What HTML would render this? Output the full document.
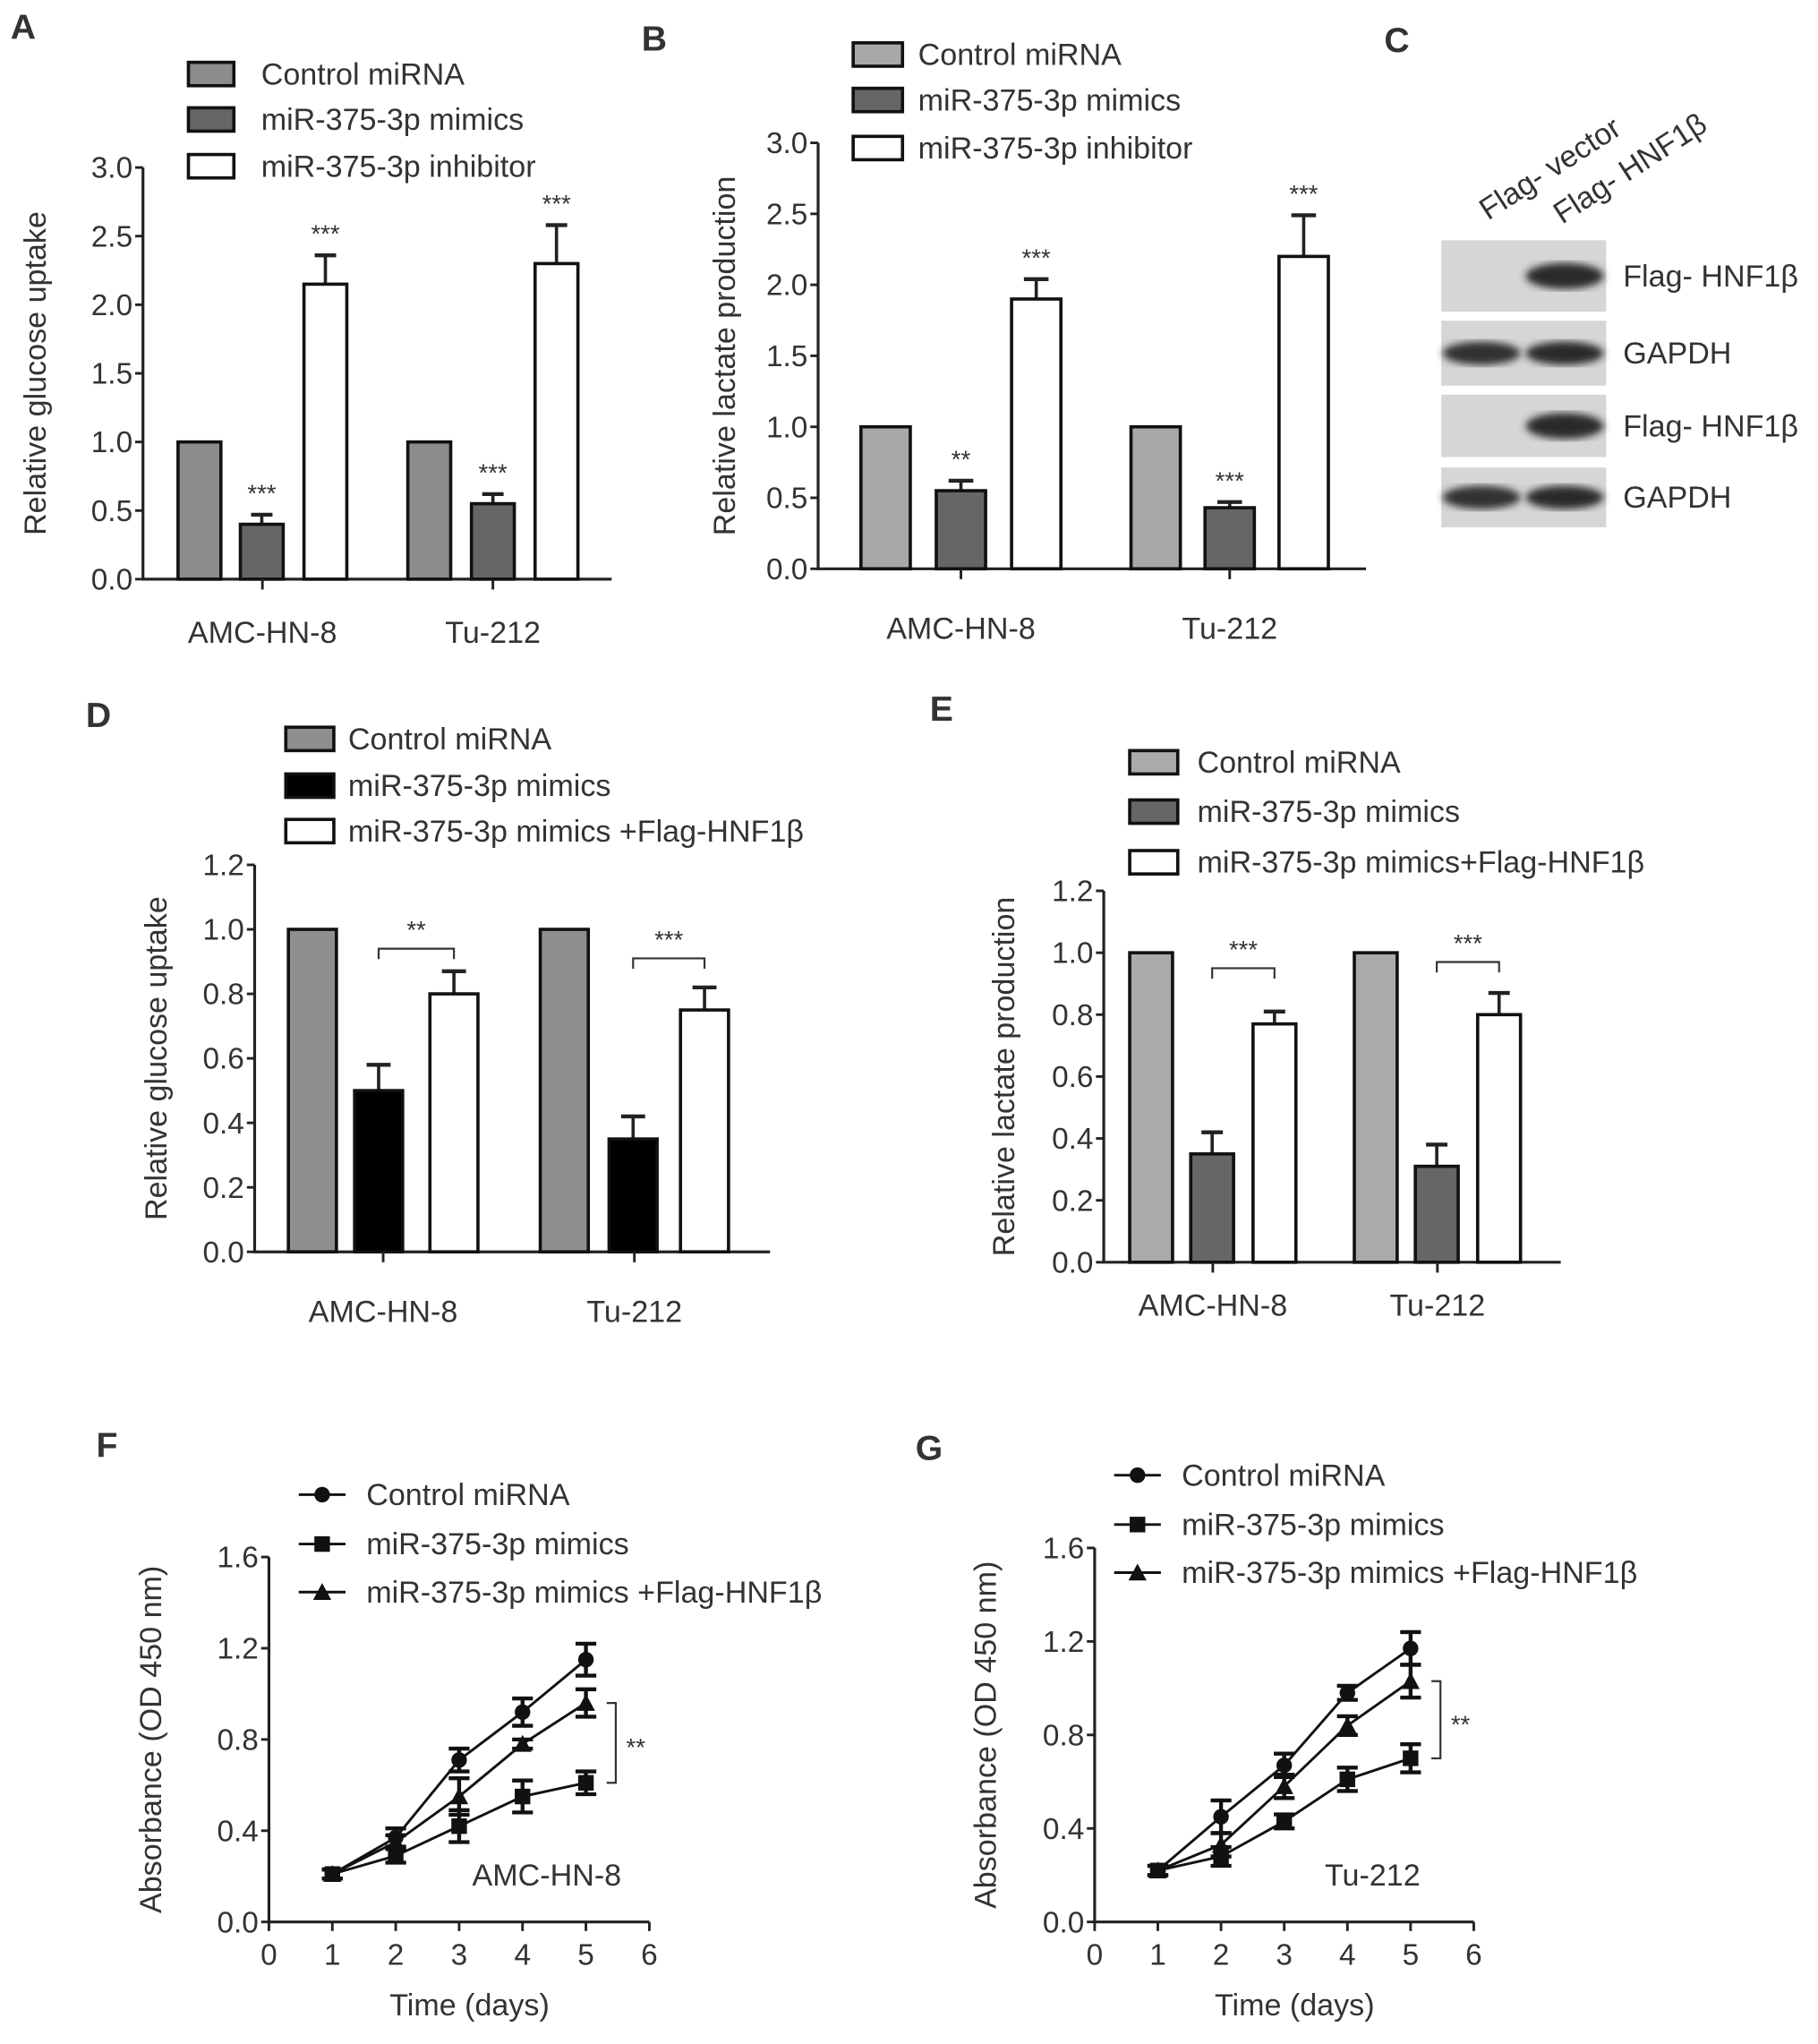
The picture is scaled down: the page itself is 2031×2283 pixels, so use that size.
<!DOCTYPE html>
<html><head><meta charset="utf-8"><style>
html,body{margin:0;padding:0;background:#fff}
svg{display:block}
text{font-family:"Liberation Sans",Arial,sans-serif;fill:#333}
</style></head><body>
<svg id="fig" width="2031" height="2283" viewBox="0 0 1400 1574" xmlns="http://www.w3.org/2000/svg"></svg>
<script>
// ---- data ----
const barGroups = ["AMC-HN-8","Tu-212"];
const A_ctrl=[1.0,1.0], A_mim=[0.40,0.55], A_mimErr=[0.07,0.07], A_inh=[2.15,2.30], A_inhErr=[0.21,0.28];
const A_ticks=["0.0","0.5","1.0","1.5","2.0","2.5","3.0"];
const B_ctrl=[1.0,1.0], B_mim=[0.55,0.43], B_mimErr=[0.07,0.04], B_inh=[1.90,2.20], B_inhErr=[0.14,0.29];
const D_ctrl=[1.0,1.0], D_mim=[0.50,0.35], D_mimErr=[0.08,0.07], D_flag=[0.80,0.75], D_flagErr=[0.07,0.07];
const E_ctrl=[1.0,1.0], E_mim=[0.35,0.31], E_mimErr=[0.07,0.07], E_flag=[0.77,0.80], E_flagErr=[0.04,0.07];
const DE_ticks=["0.0","0.2","0.4","0.6","0.8","1.0","1.2"];
const days=[1,2,3,4,5];
const F_ctrl=[0.21,0.37,0.71,0.92,1.15], F_ctrlErr=[0.02,0.04,0.05,0.06,0.07];
const F_mim=[0.21,0.29,0.42,0.55,0.61], F_mimErr=[0.02,0.03,0.07,0.07,0.05];
const F_flag=[0.21,0.35,0.55,0.78,0.96], F_flagErr=[0.02,0.03,0.08,0.02,0.06];
const G_ctrl=[0.22,0.45,0.67,0.98,1.17], G_ctrlErr=[0.02,0.07,0.05,0.03,0.07];
const G_mim=[0.22,0.28,0.43,0.61,0.70], G_mimErr=[0.02,0.04,0.03,0.05,0.06];
const G_flag=[0.22,0.33,0.58,0.84,1.03], G_flagErr=[0.02,0.05,0.05,0.04,0.07];
const FG_yticks=["0.0","0.4","0.8","1.2","1.6"];
const FG_xticks=["0","1","2","3","4","5","6"];

const FS=23.5, TS=23, SS=19;
const svg=document.getElementById('fig');
const NS="http://www.w3.org/2000/svg";
function el(tag,attrs,parent,txt){const e=document.createElementNS(NS,tag);for(const k in attrs)e.setAttribute(k,attrs[k]);if(txt!==undefined)e.textContent=txt;(parent||svg).appendChild(e);return e;}
function txt(x,y,s,size,anchor,parent,extra){const t=el('text',Object.assign({x:x,y:y,'font-size':size,'text-anchor':anchor||'start'},extra||{}),parent,s);return t;}

function panelLabel(l,x,y){const t=txt(x,y,l,27,'start',svg,{'font-weight':'bold',fill:'#111'});

}

function barChart(id,o){
  const g=el('g',{});
  
  
  const y=v=>o.y0-(v/o.ymax)*(o.y0-o.ytop);
  const ax=el('path',{d:`M${o.ax},${o.ytop}V${o.y0}H${o.xend}`,stroke:'#222','stroke-width':2.2,fill:'none'},g);
  
  
  o.ticks.forEach(t=>{const yy=y(parseFloat(t));
    el('line',{x1:o.ax-6,x2:o.ax,y1:yy,y2:yy,stroke:'#222','stroke-width':2},g);
    const tl=txt(o.ax-8,yy+8,t,TS,'end',g);
    
    });
  const yt=txt(0,0,o.ytitle,FS,'middle',g,{transform:`translate(${o.ytx},${(o.ytop+o.y0)/2}) rotate(-90)`,fill:'#555'});
  
  
  const series=[o.s1,o.s2,o.s3];
  barGroups.forEach((cat,gi)=>{
    series.forEach((s,si)=>{
      const x0=o.barX[gi][si];
      const v=s.vals[gi];
      if(s.err){const e=s.err[gi];const cx=x0+o.bw/2;
        el('line',{x1:cx,x2:cx,y1:y(v),y2:y(v+e),stroke:'#222','stroke-width':2.5},g);
        el('line',{x1:cx-o.bw/4,x2:cx+o.bw/4,y1:y(v+e),y2:y(v+e),stroke:'#222','stroke-width':3},g);
        if(s.stars){const st=txt(cx,y(v+e)-10,s.stars[gi],SS,'middle',g);
          
          }
      }
      const r=el('rect',{x:x0,y:y(v),width:o.bw,height:y(0)-y(v),fill:s.color,stroke:'#111','stroke-width':2.5},g);
      
      
    });
    const cx=(o.barX[gi][0]+o.barX[gi][2]+o.bw)/2;
    el('line',{x1:cx,x2:cx,y1:o.y0,y2:o.y0+8,stroke:'#222','stroke-width':2},g);
    const cl=txt(cx,o.catY,cat,FS,'middle',g);
    
    
    if(o.bracket){const b=o.bracket[gi];const x1=o.barX[gi][1]+o.bw/2,x2=o.barX[gi][2]+o.bw/2,by=y(b.v);
      const br=el('path',{d:`M${x1},${by+8}V${by}H${x2}V${by+8}`,stroke:'#333','stroke-width':1.5,fill:'none'},g);
      
      
      const st=txt((x1+x2)/2,by-8,b.s,SS,'middle',g);
      
      }
  });
  o.legend.forEach((l,i)=>{const ly=o.legY[i];
    const lg=el('g',{},g);
    
    
    el('rect',{x:o.legX,y:ly-9,width:o.legW,height:18,fill:series[i].color,stroke:'#111','stroke-width':2.5},lg);
    txt(o.legTX,ly+8,l,FS,'start',lg);});
}

barChart('chart-a-glucose-uptake',{ax:110,ytop:129,y0:446,xend:471,ymax:3,ticks:A_ticks,ytitle:'Relative glucose uptake',ytx:35,catY:495,bw:33,
  barX:[[137,185,234],[314,363,412]],
  s1:{vals:A_ctrl,color:'#8c8c8c'},s2:{vals:A_mim,err:A_mimErr,color:'#666',stars:['***','***']},s3:{vals:A_inh,err:A_inhErr,color:'#fff',stars:['***','***']},
  legend:['Control miRNA','miR-375-3p mimics','miR-375-3p inhibitor'],legY:[57,92,128],legX:145,legW:35,legTX:201});
barChart('chart-b-lactate-production',{ax:630,ytop:110,y0:438,xend:1052,ymax:3,ticks:A_ticks,ytitle:'Relative lactate production',ytx:566,catY:492,bw:38,
  barX:[[663,721,779],[871,928,985]],
  s1:{vals:B_ctrl,color:'#a8a8a8'},s2:{vals:B_mim,err:B_mimErr,color:'#666',stars:['**','***']},s3:{vals:B_inh,err:B_inhErr,color:'#fff',stars:['***','***']},
  legend:['Control miRNA','miR-375-3p mimics','miR-375-3p inhibitor'],legY:[42,77,114],legX:657,legW:38,legTX:707});
barChart('chart-d-glucose-uptake',{ax:196,ytop:666,y0:964,xend:593,ymax:1.2,ticks:DE_ticks,ytitle:'Relative glucose uptake',ytx:128,catY:1018,bw:37,
  barX:[[222,273,331],[416,469,524]],
  s1:{vals:D_ctrl,color:'#8f8f8f'},s2:{vals:D_mim,err:D_mimErr,color:'#000'},s3:{vals:D_flag,err:D_flagErr,color:'#fff'},
  bracket:[{v:0.94,s:'**'},{v:0.91,s:'***'}],
  legend:['Control miRNA','miR-375-3p mimics','miR-375-3p mimics +Flag-HNF1β'],legY:[569,605,640],legX:220,legW:37,legTX:268});
barChart('chart-e-lactate-production',{ax:850,ytop:686,y0:972,xend:1202,ymax:1.2,ticks:DE_ticks,ytitle:'Relative lactate production',ytx:781,catY:1013,bw:33,
  barX:[[870,917,965],[1043,1090,1138]],
  s1:{vals:E_ctrl,color:'#aaa'},s2:{vals:E_mim,err:E_mimErr,color:'#666'},s3:{vals:E_flag,err:E_flagErr,color:'#fff'},
  bracket:[{v:0.95,s:'***'},{v:0.97,s:'***'}],
  legend:['Control miRNA','miR-375-3p mimics','miR-375-3p mimics+Flag-HNF1β'],legY:[587,625,664],legX:870,legW:37,legTX:922});

function lineChart(id,o){
  const g=el('g',{});
  
  
  const x=d=>o.ax+d/6*(o.xend-o.ax);
  const y=v=>o.y0-v/1.6*(o.y0-o.ytop);
  const axp=el('path',{d:`M${o.ax},${o.ytop}V${o.y0}H${o.xend}`,stroke:'#222','stroke-width':2.2,fill:'none'},g);
  
  
  FG_yticks.forEach(t=>{const yy=y(parseFloat(t));el('line',{x1:o.ax-6,x2:o.ax,y1:yy,y2:yy,stroke:'#222','stroke-width':2},g);
    const tl=txt(o.ax-8,yy+8,t,TS,'end',g);
    
    });
  FG_xticks.forEach(t=>{const xx=x(parseFloat(t));el('line',{x1:xx,x2:xx,y1:o.y0,y2:o.y0+7,stroke:'#222','stroke-width':2},g);
    const tl=txt(xx,o.y0+33,t,TS,'middle',g);
    
    });
  const yt=txt(0,0,'Absorbance (OD 450 nm)',FS,'middle',g,{transform:`translate(${o.ytx},${(o.ytop+o.y0)/2}) rotate(-90)`,fill:'#555'});
  
  
  const xt=txt((o.ax+o.xend)/2+8,o.y0+72,'Time (days)',FS,'middle',g,{fill:'#555'});
  
  
  const marker=(shape,cx,cy,p)=>{
    if(shape==='c')el('circle',{cx:cx,cy:cy,r:6,fill:'#111'},p);
    else if(shape==='s')el('rect',{x:cx-6,y:cy-6,width:12,height:12,fill:'#111'},p);
    else el('path',{d:`M${cx},${cy-7}L${cx+7},${cy+6}H${cx-7}Z`,fill:'#111'},p);};
  o.series.forEach((s,si)=>{
    const sg=el('g',{},g);
    
    
    el('polyline',{points:days.map((d,i)=>x(d)+','+y(s.vals[i])).join(' '),fill:'none',stroke:'#111','stroke-width':2},sg);
    days.forEach((d,i)=>{const cx=x(d),v=s.vals[i],e=s.err[i];
      el('path',{d:`M${cx},${y(v-e)}V${y(v+e)}M${cx-8},${y(v-e)}H${cx+8}M${cx-8},${y(v+e)}H${cx+8}`,stroke:'#111','stroke-width':3,fill:'none'},sg);
      marker(s.shape,cx,y(v),sg);});
    const lg=el('g',{},g);
    
    
    const ly=o.legY[si];
    el('line',{x1:o.legX,x2:o.legX+36,y1:ly,y2:ly,stroke:'#111','stroke-width':2},lg);
    marker(s.shape,o.legX+18,ly,lg);
    txt(o.legX+52,ly+8,s.label,FS,'start',lg);
  });
  const s0=o.series[2],s1=o.series[1];
  const bx=x(5)+23;
  const br=el('path',{d:`M${bx-7},${y(s0.vals[4])}H${bx}V${y(s1.vals[4])}H${bx-7}`,stroke:'#333','stroke-width':1.5,fill:'none'},g);
  
  
  const st=txt(bx+8,(y(s0.vals[4])+y(s1.vals[4]))/2+10,'**',SS,'start',g);
  
  
  const cl=txt(o.cellX,o.cellY,o.cell,FS,'middle',g);
  
  
}
const labels=['Control miRNA','miR-375-3p mimics','miR-375-3p mimics +Flag-HNF1β'];
lineChart('chart-f-absorbance',{ax:207,xend:500,ytop:1199,y0:1480,ytx:124,legX:230,legY:[1151,1189,1226],cell:'AMC-HN-8',cellX:421,cellY:1452,
  series:[{name:'control',label:labels[0],vals:F_ctrl,err:F_ctrlErr,shape:'c'},{name:'mimics',label:labels[1],vals:F_mim,err:F_mimErr,shape:'s'},{name:'mimics-flag',label:labels[2],vals:F_flag,err:F_flagErr,shape:'t'}]});
lineChart('chart-g-absorbance',{ax:843,xend:1135,ytop:1192,y0:1480,ytx:767,legX:858,legY:[1136,1174,1211],cell:'Tu-212',cellX:1057,cellY:1452,
  series:[{name:'control',label:labels[0],vals:G_ctrl,err:G_ctrlErr,shape:'c'},{name:'mimics',label:labels[1],vals:G_mim,err:G_mimErr,shape:'s'},{name:'mimics-flag',label:labels[2],vals:G_flag,err:G_flagErr,shape:'t'}]});

(function(){
  const g=el('g',{});
  
  
  const rows=[{y:185,h:55,l:'Flag- HNF1β',both:false},{y:247,h:50,l:'GAPDH',both:true},{y:304,h:48,l:'Flag- HNF1β',both:false},{y:360,h:46,l:'GAPDH',both:true}];
  el('defs',{},g).innerHTML='<filter id="bl"><feGaussianBlur stdDeviation="3"/></filter>';
  rows.forEach(r=>{
    const rg=el('g',{},g);
    
    
    el('rect',{x:1110,y:r.y,width:127,height:r.h,fill:'#d6d6d6'},rg);
    const cy=r.y+r.h/2;
    if(r.both)el('ellipse',{cx:1141,cy:cy,rx:30,ry:9,fill:'#333',filter:'url(#bl)'},rg);
    el('ellipse',{cx:1205,cy:cy,rx:30,ry:r.both?9:10,fill:'#2a2a2a',filter:'url(#bl)'},rg);
    txt(1250,cy+8,r.l,FS,'start',rg);
  });
  const l1=txt(0,0,'Flag- vector',FS,'start',g,{transform:'translate(1146,170) rotate(-33)'});
  
  
  const l2=txt(0,0,'Flag- HNF1β',FS,'start',g,{transform:'translate(1203,173) rotate(-33)'});
  
  
})();

panelLabel('A',8,30);panelLabel('B',494,39);panelLabel('C',1066,40);
panelLabel('D',66,560);panelLabel('E',716,555);panelLabel('F',74,1122);panelLabel('G',705,1124);
</script>
</body></html>
